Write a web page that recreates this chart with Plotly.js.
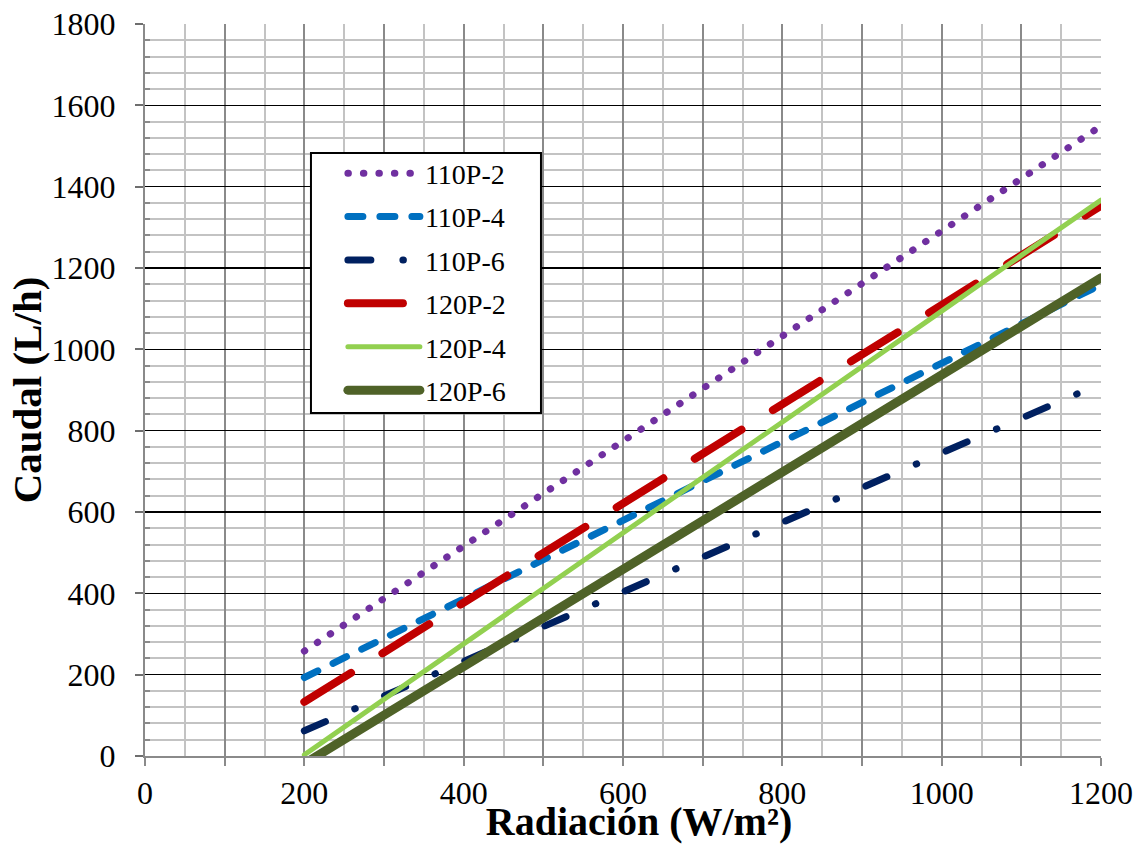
<!DOCTYPE html>
<html>
<head>
<meta charset="utf-8">
<script src="https://cdn.plot.ly/plotly-3.0.1.min.js"></script>
<style>html,body{margin:0;padding:0;background:#fff;}#chart{width:1135px;height:844px;}</style>
</head>
<body>
<div id="chart"></div>
<script>
// Radiación (W/m²)
const radiacion = [200, 300, 400, 500, 600, 700, 800, 900, 1000, 1100, 1200];
// Caudal (L/h) per series
const s110P2 = [258, 387, 516, 646, 775, 904, 1033, 1162, 1291, 1420, 1549];
const s110P4 = [193, 290, 387, 483, 580, 676, 773, 870, 966, 1063, 1159];
const s110P6 = [62, 147, 233, 318, 404, 489, 574, 660, 745, 831, 916];
const s120P2 = [133, 255, 377, 499, 621, 743, 865, 987, 1109, 1231, 1353];
const s120P4 = [3, 139, 276, 412, 549, 685, 822, 958, 1094, 1231, 1367];
const s120P6 = [-19, 101, 220, 340, 459, 579, 698, 818, 937, 1057, 1176];
const seriesNames = ['110P-2', '110P-4', '110P-6', '120P-2', '120P-4', '120P-6'];
const xTickVals = [0, 100, 200, 300, 400, 500, 600, 700, 800, 900, 1000, 1100, 1200];
const xTickText = ['0', '', '200', '', '400', '', '600', '', '800', '', '1000', '', '1200'];
const xMinorVals = [50, 150, 250, 350, 450, 550, 650, 750, 850, 950, 1050, 1150];
const yMinorVals = [40, 80, 120, 160, 240, 280, 320, 360, 440, 480, 520, 560, 640, 680, 720, 760,
  840, 880, 920, 960, 1040, 1080, 1120, 1160, 1240, 1280, 1320, 1360, 1440, 1480, 1520, 1560,
  1640, 1680, 1720, 1760];

const seriesData = [s110P2, s110P4, s110P6, s120P2, s120P4, s120P6];
const styles = [
  {color: '#7030A0', width: 7, dash: '0.5px,15px'},
  {color: '#0070C0', width: 7, dash: '15px,17px'},
  {color: '#002060', width: 7, dash: '23px,32px,0.5px,32px'},
  {color: '#C00000', width: 8, dash: '55px,37px'},
  {color: '#92D050', width: 5, dash: 'solid'},
  {color: '#4F6228', width: 9, dash: 'solid'}
];

const traces = seriesData.map((ys, i) => ({
  type: 'scatter',
  mode: 'lines',
  name: seriesNames[i],
  legendgroup: 'g' + i,
  x: radiacion,
  y: ys,
  line: styles[i],
  hoverinfo: 'x+y+name'
}));

const serif = "'Liberation Serif', 'Times New Roman', serif";
const layout = {
  width: 1135,
  height: 844,
  margin: {l: 145, r: 34, t: 24, b: 88},
  paper_bgcolor: '#ffffff',
  plot_bgcolor: '#ffffff',
  font: {family: serif, color: '#000000'},
  showlegend: true,
  legend: {
    x: 0.207, y: 0.83, xanchor: 'left', yanchor: 'top',
    bgcolor: 'rgba(0,0,0,0)', borderwidth: 0,
    font: {family: serif, size: 28, color: '#000000'},
    itemwidth: 72,
    tracegroupgap: 4,
    traceorder: 'grouped'
  },
  shapes: [{
    type: 'rect', xref: 'paper', yref: 'paper',
    x0: 0.1736, x1: 0.4142, y0: 0.4686, y1: 0.8238,
    line: {color: '#000000', width: 2}, fillcolor: '#ffffff', layer: 'above'
  }],
  xaxis: {
    range: [0, 1200],
    tickmode: 'array', tickvals: xTickVals, ticktext: xTickText,
    ticks: 'outside', ticklen: 8, tickwidth: 2, tickcolor: '#8a8a8a',
    showgrid: true, gridcolor: '#8a8a8a', gridwidth: 2,
    showline: true, linecolor: '#8a8a8a', linewidth: 2,
    zeroline: false,
    minor: {tickmode: 'array', tickvals: xMinorVals, showgrid: true, gridcolor: '#c3c3c3', gridwidth: 2, ticks: ''},
    tickfont: {family: serif, size: 32, color: '#000000'},
    automargin: false,
    title: {text: 'Radiación (W/m²)', font: {family: serif, size: 40, weight: 'bold', color: '#000000'}}
  },
  yaxis: {
    range: [0, 1800],
    tick0: 0, dtick: 200,
    ticks: 'outside', ticklen: 8, tickwidth: 2, tickcolor: '#6e6e6e',
    ticklabelstandoff: 13,
    showgrid: true, gridcolor: '#000000', gridwidth: 1.6,
    showline: true, linecolor: '#8a8a8a', linewidth: 2,
    zeroline: false,
    minor: {tickmode: 'array', tickvals: yMinorVals, showgrid: true, gridcolor: '#c3c3c3', gridwidth: 2, ticks: 'inside', ticklen: 5, tickwidth: 2, tickcolor: '#8a8a8a'},
    tickfont: {family: serif, size: 32, color: '#000000'},
    automargin: false,
    title: {text: 'Caudal (L/h)', font: {family: serif, size: 41, weight: 'bold', color: '#000000'}}
  }
};

Plotly.newPlot('chart', traces, layout, {displayModeBar: false, staticPlot: true}).then(function (gd) {
  gd.querySelectorAll('path.js-line').forEach(function (p) {
    p.style.strokeLinecap = 'round';
    p.style.strokeLinejoin = 'round';
  });
  const xt = gd.querySelector('.xtitle');
  if (xt) {
    xt.setAttribute('x', parseFloat(xt.getAttribute('x')) + 16);
  }
});
</script>
</body>
</html>
